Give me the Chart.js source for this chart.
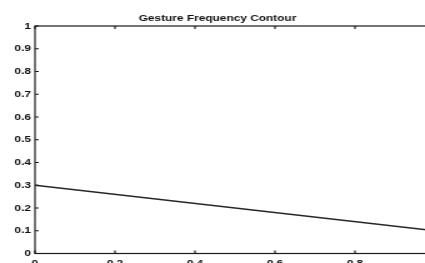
<!DOCTYPE html>
<html>
<head>
<meta charset="utf-8">
<script src="https://cdn.jsdelivr.net/npm/chart.js@4/dist/chart.umd.min.js"></script>
<style>
    html, body { margin: 0; padding: 0; background: #fff; overflow: hidden; width: 425px; height: 263px; }
    #wrap { transform: scaleX(1.25); transform-origin: 0 0; width: 360px; height: 263px; }
</style>
</head>
<body>
<div id="wrap"><canvas id="contourChart" width="360" height="263"></canvas></div>
<script>
const chartTitle = "Gesture Frequency Contour";
const xValues = [0, 1];
const yValues = [0.3, 0.1];
const xTicks = [0, 0.2, 0.4, 0.6, 0.8, 1];
const yTicks = [0, 0.1, 0.2, 0.3, 0.4, 0.5, 0.6, 0.7, 0.8, 0.9, 1];

document.addEventListener("DOMContentLoaded", function () {
    const ctx = document.getElementById("contourChart").getContext("2d");
    const tickFont = { family: "'Liberation Sans', Arial, sans-serif", size: 9.5, weight: "bold" };

    // matlab style box with inward ticks
    const boxPlugin = {
        id: "box",
        afterDatasetsDraw(chart) {
            const a = chart.chartArea;
            const c = chart.ctx;
            c.save();
            c.strokeStyle = "#1a1a1a";
            c.lineWidth = 1.2;
            c.strokeRect(a.left, a.top, a.right - a.left, a.bottom - a.top);
            xTicks.forEach(v => {
                const px = chart.scales.x.getPixelForValue(v);
                c.beginPath();
                c.moveTo(px, a.bottom); c.lineTo(px, a.bottom - 3);
                c.moveTo(px, a.top); c.lineTo(px, a.top + 3);
                c.stroke();
            });
            yTicks.forEach(v => {
                const py = chart.scales.y.getPixelForValue(v);
                c.beginPath();
                c.moveTo(a.left, py); c.lineTo(a.left + 3, py);
                c.moveTo(a.right, py); c.lineTo(a.right - 3, py);
                c.stroke();
            });
            c.restore();
        }
    };

    new Chart(ctx, {
        type: "line",
        data: {
            datasets: [{
                data: xValues.map((x, i) => ({ x: x, y: yValues[i] })),
                borderColor: "#262626",
                borderWidth: 1.5,
                pointRadius: 0,
                fill: false,
                tension: 0
            }]
        },
        options: {
            responsive: false,
            animation: false,
            layout: { padding: { left: 0, right: 12, top: 0, bottom: 0 } },
            plugins: {
                legend: { display: false },
                tooltip: { enabled: false },
                title: {
                    display: true,
                    text: chartTitle,
                    color: "#111",
                    font: { family: "'Liberation Sans', Arial, sans-serif", size: 9.5, weight: "bold", lineHeight: 1.2 },
                    padding: { top: 12.5, bottom: 2.1 }
                }
            },
            scales: {
                x: {
                    type: "linear",
                    min: 0,
                    max: 1,
                    afterBuildTicks: s => { s.ticks = xTicks.map(v => ({ value: v })); },
                    afterFit: s => { s.height = 9.5; },
                    grid: { display: false, drawTicks: false },
                    border: { display: false },
                    ticks: { color: "#111", font: tickFont, padding: 4, maxRotation: 0, autoSkip: false, callback: v => String(v) }
                },
                y: {
                    min: 0,
                    max: 1,
                    afterBuildTicks: s => { s.ticks = yTicks.map(v => ({ value: v })); },
                    afterFit: s => { s.width = 28; },
                    grid: { display: false, drawTicks: false },
                    border: { display: false },
                    ticks: { color: "#111", font: tickFont, padding: 3.2, autoSkip: false, callback: v => String(v) }
                }
            }
        },
        plugins: [boxPlugin]
    });
});
</script>
</body>
</html>
